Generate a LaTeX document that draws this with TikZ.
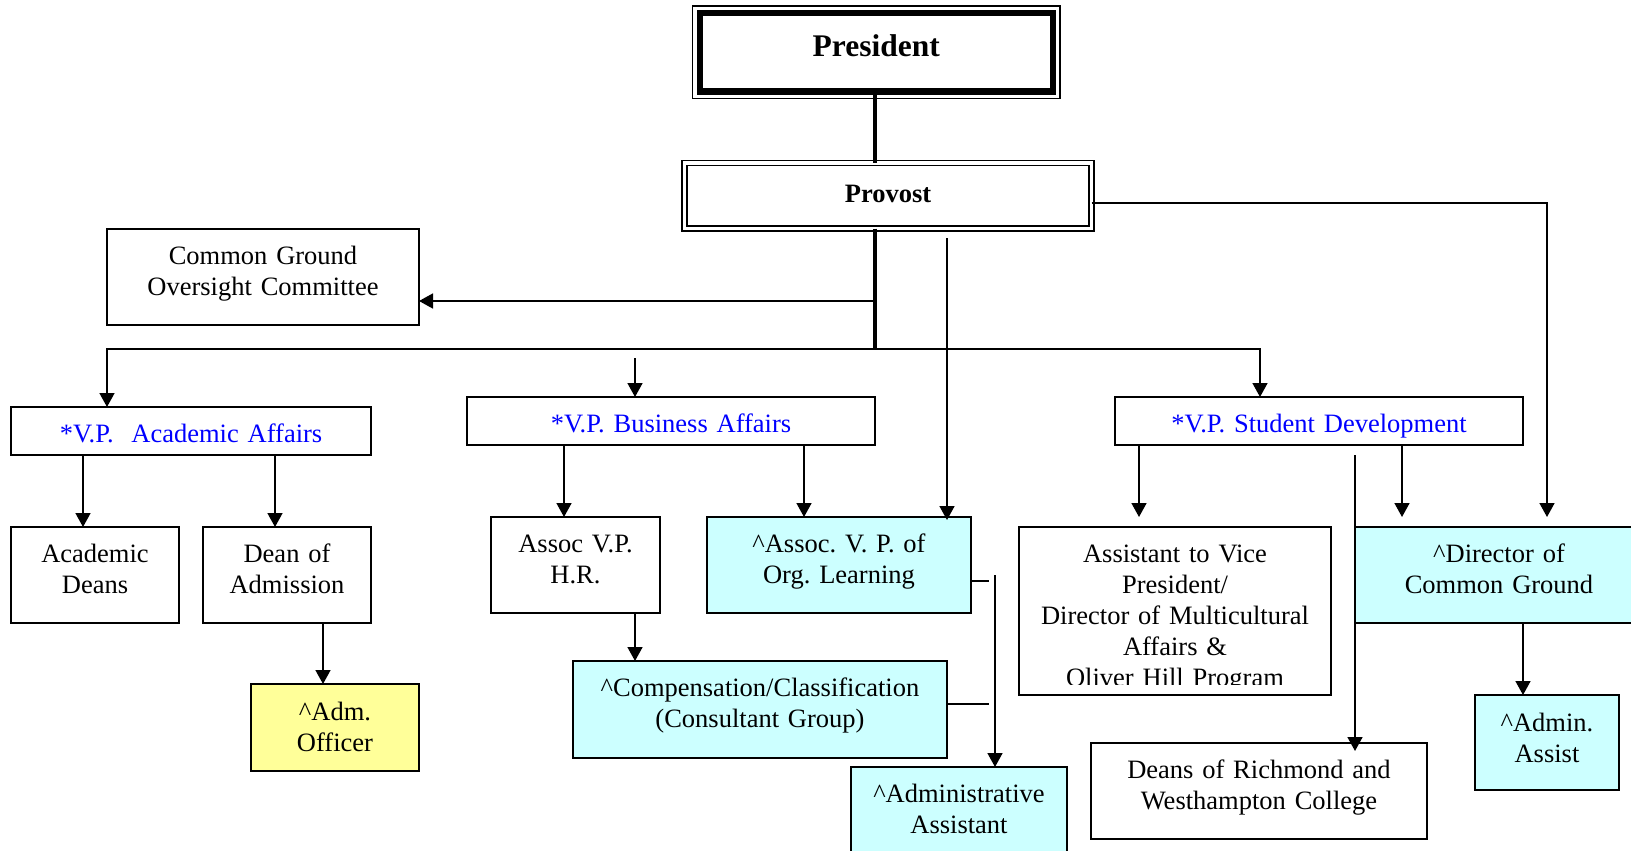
\documentclass[tikz,border=0pt]{standalone}
\usepackage{fontspec}
\setmainfont{Liberation Serif}
\usetikzlibrary{arrows.meta}
\definecolor{vpblue}{RGB}{0,0,255}
\definecolor{cgcyan}{HTML}{CCFFFF}
\definecolor{admyellow}{HTML}{FFFF99}
\frenchspacing
\begin{document}
\begin{tikzpicture}[x=1pt,y=-1pt,
    orgbox/.style={draw, line width=1.8pt, outer sep=0pt, inner sep=0pt,
      anchor=north west, align=center, text height=35pt,
      font=\fontsize{26.5}{31}\selectfont},
    vpbox/.style={orgbox, text=vpblue, text depth=13pt},
    link/.style={line width=1.6pt},
    arr/.style={line width=1.6pt, -{Triangle[length=14pt,width=15pt]}}]
  \useasboundingbox (0,0) rectangle (1631,851);

  \node[orgbox, line width=6pt, text width=353.5pt, text height=44pt, text depth=34.5pt,
    font=\bfseries\fontsize{31.5}{36}\selectfont] (pres) at (699.5,13) {President};
  \draw[line width=1.5pt] ([shift={(-7,-7)}]pres.north west) rectangle ([shift={(7,7)}]pres.south east);
  \node[orgbox, line width=1.5pt, double, double distance=3.5pt, text width=407pt,
    text height=39pt, text depth=26.5pt,
    font=\bfseries\fontsize{26.5}{31}\selectfont] (prov) at (684.5,163) {Provost};

  \node[orgbox, text width=312pt, text depth=61pt] (cgoc) at (107,229) {Common Ground\\Oversight Committee};

  \node[vpbox, text width=360pt] (vpa) at (11,407) {*V.P.\ \ Academic Affairs};
  \node[vpbox, text width=408pt] (vpb) at (467,397) {*V.P. Business Affairs};
  \node[vpbox, text width=408pt] (vps) at (1115,397) {*V.P. Student Development};

  \node[orgbox, text width=168pt, text depth=61pt] (deans) at (11,527) {Academic\\Deans};
  \node[orgbox, text width=168pt, text depth=61pt] (adm) at (203,527) {Dean of\\Admission};
  \node[orgbox, fill=admyellow, text width=168pt, text height=36pt, text depth=51pt] (admoff) at (251,684) {\textasciicircum Adm.\\Officer};

  \node[orgbox, text width=169pt, text depth=61pt] (hr) at (491,517) {Assoc V.P.\\H.R.};
  \node[orgbox, fill=cgcyan, text width=264pt, text depth=61pt] (orgl) at (707,517) {\textasciicircum Assoc. V. P. of\\Org. Learning};
  \node[orgbox, fill=cgcyan, text width=374pt, text depth=62pt] (comp) at (573,661) {\textasciicircum Compensation/Classification\\(Consultant Group)};
  \node[orgbox, fill=cgcyan, text width=216pt, text depth=75pt] (admasst) at (851,767) {\textasciicircum Administrative\\Assistant};

  \node[orgbox, text width=312pt, text depth=133pt] (asstvp) at (1019,527) {Assistant to Vice\\President/\\Director of Multicultural\\Affairs \&\\Oliver Hill Program};
  \fill[white] ([shift={(1,-10)}]asstvp.south west) rectangle ([shift={(-1,-1)}]asstvp.south east);
  \node[orgbox, fill=cgcyan, text width=288pt, text depth=61pt] (dircg) at (1355,527) {\textasciicircum Director of\\Common Ground};
  \node[orgbox, fill=cgcyan, text width=144pt, text height=36pt, text depth=59pt] (admin) at (1475,695) {\textasciicircum Admin.\\Assist};
  \node[orgbox, text width=336pt, text depth=61pt] (deansrw) at (1091,743) {Deans of Richmond and\\Westhampton College};

  \coordinate (xtrunk) at (875,0);
  \coordinate (busL) at (107,349);
  \coordinate (busR) at (1260,349);
  \coordinate (ycg) at (0,301);
  \coordinate (yprv) at (0,203);
  \coordinate (xvpb) at (635,0);
  \coordinate (xorg) at (947,0);
  \coordinate (xdcg) at (1547,0);
  \coordinate (stubA) at (989,581);
  \coordinate (stubB) at (989,704);
  \coordinate (aaTop) at (995,575);

  \draw[line width=3.5pt] (pres.south -| xtrunk) -- (prov.north -| xtrunk);
  \draw[line width=3.5pt] (prov.south -| xtrunk) -- (busL -| xtrunk);
  \draw[arr] (xtrunk |- ycg) -- (cgoc.east |- ycg);
  \draw[arr] (busL -| xtrunk) -| (vpa.north -| busL);
  \draw[arr] (busL -| xtrunk) -| (vps.north -| busR);
  \draw[arr, shorten <=9pt] (busL -| xvpb) -- (vpb.north -| xvpb);
  \draw[arr, shorten <=9.5pt, shorten >=-3pt] (prov.south -| xorg) -- (orgl.north -| xorg);
  \draw[arr, shorten >=10pt] (prov.east |- yprv) -| (dircg.north -| xdcg);

  \draw[arr] (vpa.south -| 83,0) -- (deans.north -| 83,0);
  \draw[arr] (vpa.south -| 275,0) -- (adm.north -| 275,0);
  \draw[arr] (adm.south -| 323,0) -- (admoff.north -| 323,0);

  \draw[arr] (vpb.south -| 564,0) -- (hr.north -| 564,0);
  \draw[arr] (vpb.south -| 804,0) -- (orgl.north -| 804,0);
  \draw[arr] (hr.south -| xvpb) -- (comp.north -| xvpb);
  \draw[link] (orgl.east |- stubA) -- (stubA);
  \draw[link] (comp.east |- stubB) -- (stubB);
  \draw[arr] (aaTop) -- (admasst.north -| aaTop);

  \draw[arr, shorten >=10pt] (vps.south -| 1139,0) -- (asstvp.north -| 1139,0);
  \draw[arr, shorten >=10pt] (vps.south -| 1402,0) -- (dircg.north -| 1402,0);
  \draw[arr, shorten <=10pt, shorten >=-8pt] (vps.south -| 1355,0) -- (deansrw.north -| 1355,0);
  \draw[arr] (dircg.south -| 1523,0) -- (admin.north -| 1523,0);
\end{tikzpicture}
\end{document}
